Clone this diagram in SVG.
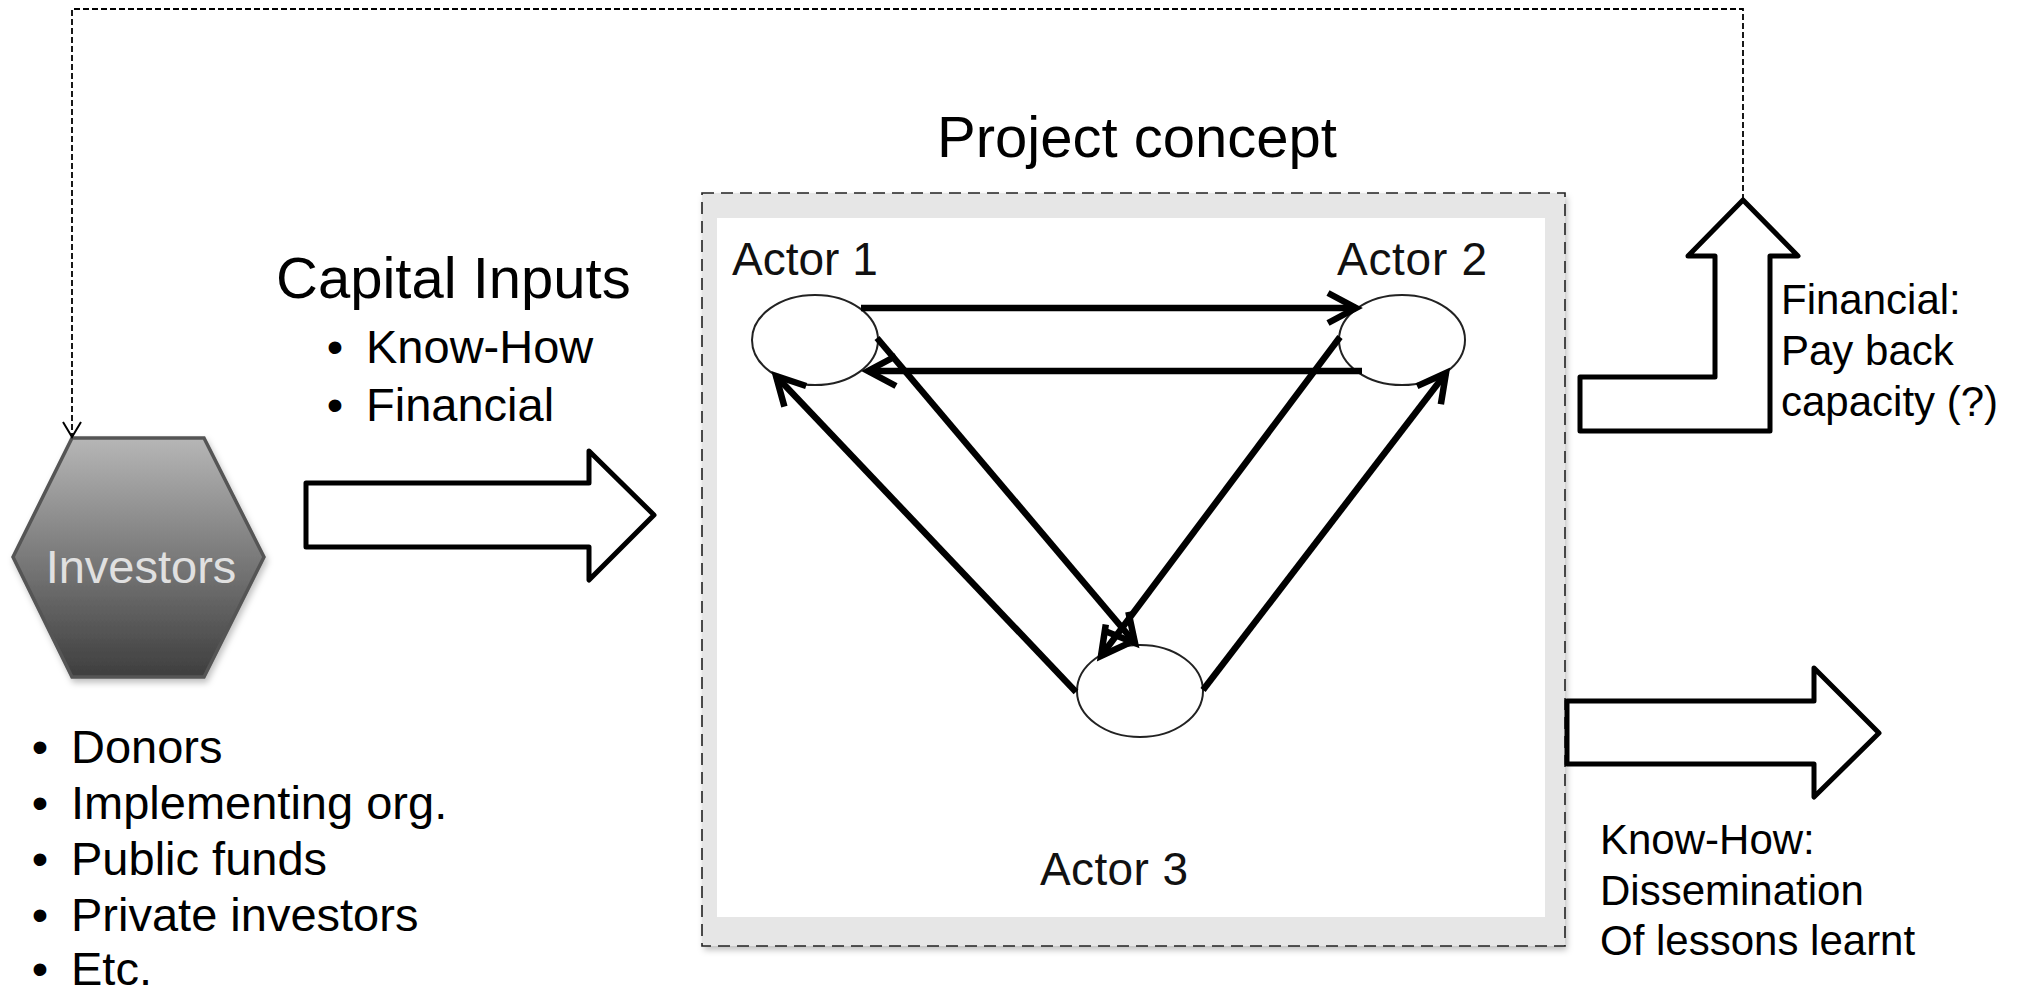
<svg xmlns="http://www.w3.org/2000/svg" width="2021" height="997" viewBox="0 0 2021 997">
  <defs>
    <linearGradient id="hexFill" x1="0" y1="0" x2="0" y2="1">
      <stop offset="0" stop-color="#b6b6b6"/>
      <stop offset="1" stop-color="#3e3e3e"/>
    </linearGradient>
    <filter id="softShadow" x="-10%" y="-10%" width="130%" height="130%">
      <feDropShadow dx="2" dy="4" stdDeviation="3" flood-color="#000" flood-opacity="0.25"/>
    </filter>
    <!-- open V head for the thick actor relations -->
    <marker id="relHead" markerUnits="userSpaceOnUse" orient="auto" markerWidth="40" markerHeight="40" viewBox="-34 -20 40 40" refX="0" refY="0" overflow="visible">
      <path d="M-28,-15 L0,0 L-28,15" fill="none" stroke="#000" stroke-width="6.5" stroke-linejoin="miter"/>
    </marker>
    <!-- small open V head for the thin feedback line -->
    <marker id="thinHead" markerUnits="userSpaceOnUse" orient="auto" markerWidth="24" markerHeight="24" viewBox="-20 -12 24 24" refX="0" refY="0" overflow="visible">
      <path d="M-15,-9 L0,0 L-15,9" fill="none" stroke="#000" stroke-width="2"/>
    </marker>
  </defs>
  <style>
    text { font-family: "Liberation Sans", Arial, sans-serif; fill: #000; }
    .title { font-size: 58px; }
    .bullet { font-size: 47px; }
    .note { font-size: 42px; }
    .actor-label { font-size: 46px; fill: #111; }
    .block-arrow { fill: #fff; stroke: #000; stroke-width: 5; stroke-linejoin: round; }
    .actor { fill: #fff; stroke: #222; stroke-width: 2; }
    .relation { fill: none; stroke: #000; stroke-width: 6.5; marker-end: url(#relHead); }
  </style>

  <rect width="2021" height="997" fill="#fff"/>

  <!-- Investors -->
  <g id="investors">
    <polygon points="72,438 204,438 264,557 204,677 72,677 13,557" fill="url(#hexFill)" stroke="#555" stroke-width="3.5" filter="url(#softShadow)"/>
    <text x="141" y="583" font-size="47" text-anchor="middle" style="fill:#e0e0e0">Investors</text>
  </g>

  <!-- Investor types -->
  <g id="investor-types" class="bullet">
    <text x="40" y="763" text-anchor="middle">•</text><text x="71" y="763">Donors</text>
    <text x="40" y="819" text-anchor="middle">•</text><text x="71" y="819">Implementing org.</text>
    <text x="40" y="875" text-anchor="middle">•</text><text x="71" y="875">Public funds</text>
    <text x="40" y="931" text-anchor="middle">•</text><text x="71" y="931">Private investors</text>
    <text x="40" y="985" text-anchor="middle">•</text><text x="71" y="985">Etc.</text>
  </g>

  <!-- Capital inputs -->
  <g id="capital-inputs">
    <text class="title" x="276" y="298" font-size="57">Capital Inputs</text>
    <g class="bullet">
      <text x="335" y="363" text-anchor="middle">•</text><text x="366" y="363">Know-How</text>
      <text x="335" y="421" text-anchor="middle">•</text><text x="366" y="421">Financial</text>
    </g>
    <polygon class="block-arrow" points="306,483 589,483 589,451 654,515 589,580 589,547 306,547"/>
  </g>

  <!-- Project concept frame -->
  <g id="project-concept">
    <text class="title" x="937" y="157">Project concept</text>
    <rect x="702" y="193" width="863" height="753" fill="#e6e6e6" filter="url(#softShadow)"/>
    <rect x="717" y="218" width="828" height="699" fill="#fff"/>
    <rect x="702" y="193" width="863" height="753" fill="none" stroke="#222" stroke-width="1.6" stroke-dasharray="12 7"/>
  </g>

  <!-- Actors -->
  <g id="actor1">
    <ellipse class="actor" cx="815" cy="340" rx="63" ry="45"/>
    <text class="actor-label" x="732" y="275">Actor 1</text>
  </g>
  <g id="actor2">
    <ellipse class="actor" cx="1402" cy="340" rx="63" ry="45"/>
    <text class="actor-label" x="1337" y="275" textLength="150">Actor 2</text>
  </g>
  <g id="actor3">
    <ellipse class="actor" cx="1140" cy="691" rx="63" ry="46"/>
    <text class="actor-label" x="1040" y="885" textLength="148">Actor 3</text>
  </g>

  <!-- Financial return -->
  <g id="financial-return">
    <polygon class="block-arrow" points="1743,200 1798,256 1770,256 1770,431 1580,431 1580,377 1715,377 1715,256 1688,256"/>
    <g class="note">
      <text x="1781" y="314">Financial:</text>
      <text x="1781" y="365">Pay back</text>
      <text x="1781" y="416">capacity (?)</text>
    </g>
  </g>

  <!-- Know-how return -->
  <g id="knowhow-return">
    <polygon class="block-arrow" points="1567,701 1814,701 1814,668 1879,733 1814,797 1814,764 1567,764"/>
    <g class="note">
      <text x="1600" y="854">Know-How:</text>
      <text x="1600" y="905">Dissemination</text>
      <text x="1600" y="955">Of lessons learnt</text>
    </g>
  </g>

  <!-- Connectors -->
  <g id="connectors">
    <path d="M1743,200 V9 H72 V437" fill="none" stroke="#000" stroke-width="1.8" stroke-dasharray="6 3" marker-end="url(#thinHead)"/>
    <line class="relation" x1="861" y1="308" x2="1356" y2="308"/>
    <line class="relation" x1="1362" y1="371" x2="868" y2="371"/>
    <line class="relation" x1="1076" y1="692" x2="776" y2="376"/>
    <line class="relation" x1="877" y1="338" x2="1135" y2="643"/>
    <line class="relation" x1="1340" y1="337" x2="1101" y2="656"/>
    <line class="relation" x1="1203" y1="690" x2="1446" y2="373"/>
  </g>
</svg>
